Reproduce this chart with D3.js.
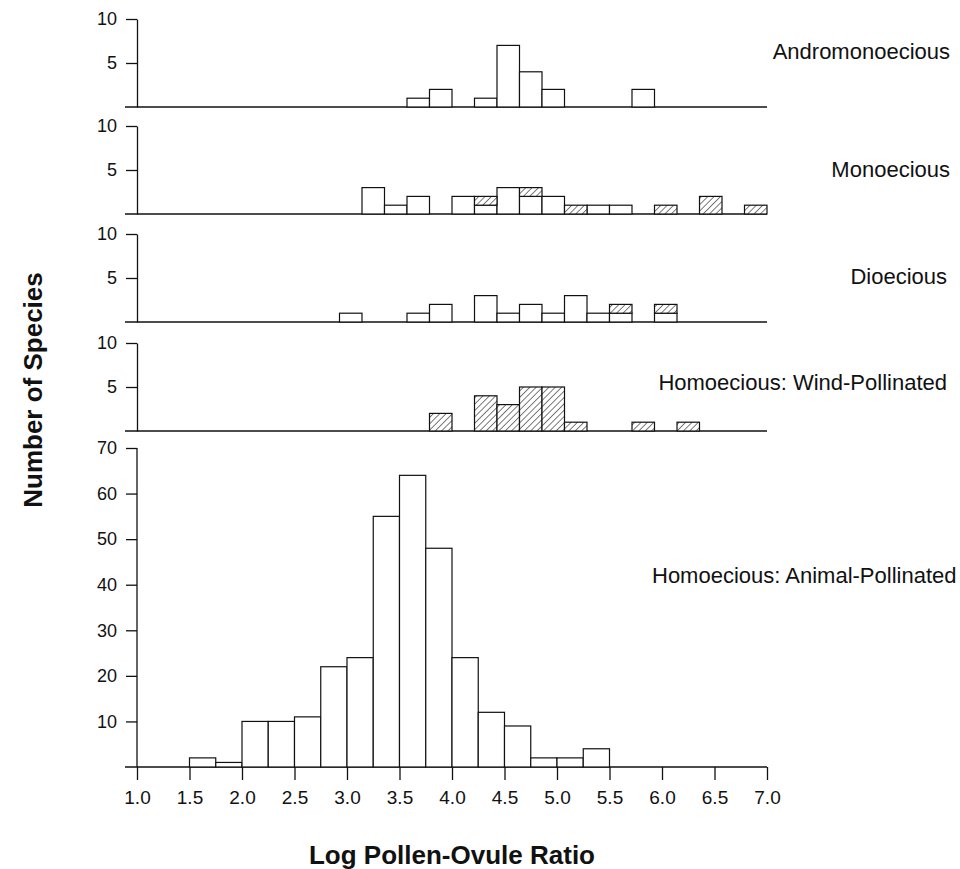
<!DOCTYPE html>
<html>
<head>
<meta charset="utf-8">
<script src="https://cdn.jsdelivr.net/npm/d3@7"></script>
<style>
  html, body { margin: 0; padding: 0; background: #fff; }
  svg { display: block; font-family: "Liberation Sans", Arial, Helvetica, sans-serif; }
</style>
</head>
<body>
<svg id="chart" width="960" height="869"></svg>
<script>
// ---------- DATA ----------
// Small panels: bins of 0.25 on the panel's own 0.5–7.5 span; [binStart, open (white) count, hatched count]
const andromonoeciousBins = [3.5, 3.75, 4.25, 4.5, 4.75, 5.0, 6.0];
const andromonoeciousOpen = [1, 2, 1, 7, 4, 2, 2];
const andromonoeciousHatch = [0, 0, 0, 0, 0, 0, 0];

const monoeciousBins  = [3.0, 3.25, 3.5, 4.0, 4.25, 4.5, 4.75, 5.0, 5.25, 5.5, 5.75, 6.25, 6.75, 7.25];
const monoeciousOpen  = [3,   1,    2,   2,   1,    3,   2,    2,   0,    1,   1,    0,    0,    0];
const monoeciousHatch = [0,   0,    0,   0,   1,    0,   1,    0,   1,    0,   0,    1,    2,    1];

const dioeciousBins  = [2.75, 3.5, 3.75, 4.25, 4.5, 4.75, 5.0, 5.25, 5.5, 5.75, 6.25];
const dioeciousOpen  = [1,    1,   2,    3,    1,   2,    1,   3,    1,   1,    1];
const dioeciousHatch = [0,    0,   0,    0,    0,   0,    0,   0,    0,   1,    1];

const windBins  = [3.75, 4.25, 4.5, 4.75, 5.0, 5.25, 6.0, 6.5];
const windOpen  = [0, 0, 0, 0, 0, 0, 0, 0];
const windHatch = [2, 4, 3, 5, 5, 1, 1, 1];

// Bottom panel (Animal-pollinated), bins of 0.25 on the 1.0–7.0 axis
const animalBins   = [1.5, 1.75, 2.0, 2.25, 2.5, 2.75, 3.0, 3.25, 3.5, 3.75, 4.0, 4.25, 4.5, 4.75, 5.0, 5.25];
const animalCounts = [2,   1,    10,  10,   11,  22,   24,  55,   64,  48,   24,  12,   9,   2,    2,   4];

const panelNames = ["Andromonoecious", "Monoecious", "Dioecious", "Homoecious: Wind-Pollinated", "Homoecious: Animal-Pollinated"];
const xTickValues = [1.0, 1.5, 2.0, 2.5, 3.0, 3.5, 4.0, 4.5, 5.0, 5.5, 6.0, 6.5, 7.0];
const smallYTicks = [5, 10];
const bigYTicks = [10, 20, 30, 40, 50, 60, 70];
const binWidth = 0.25;

// ---------- LAYOUT ----------
const svg = d3.select("#chart");
const left = 137, right = 767;
const xTop = d3.scaleLinear().domain([0.5, 7.5]).range([left, right]);
const xBottom = d3.scaleLinear().domain([1.0, 7.0]).range([left, right]);

const defs = svg.append("defs");
const pat = defs.append("pattern")
  .attr("id", "hatch").attr("patternUnits", "userSpaceOnUse")
  .attr("width", 4.5).attr("height", 4.5)
  .attr("patternTransform", "rotate(45)");
pat.append("rect").attr("width", 4.5).attr("height", 4.5).attr("fill", "#fff");
pat.append("line").attr("x1", 0).attr("y1", 0).attr("x2", 0).attr("y2", 4.5)
  .attr("stroke", "#222").attr("stroke-width", 1.2);

const smallPanels = [
  { name: panelNames[0], bins: andromonoeciousBins, open: andromonoeciousOpen, hatch: andromonoeciousHatch, top: 19, bottom: 107, labelY: 59, labelX: 950 },
  { name: panelNames[1], bins: monoeciousBins, open: monoeciousOpen, hatch: monoeciousHatch, top: 126, bottom: 214, labelY: 177, labelX: 950 },
  { name: panelNames[2], bins: dioeciousBins, open: dioeciousOpen, hatch: dioeciousHatch, top: 234, bottom: 322, labelY: 284, labelX: 947 },
  { name: panelNames[3], bins: windBins, open: windOpen, hatch: windHatch, top: 343, bottom: 431, labelY: 390, labelX: 947 }
];

function styleAxis(g, fs) {
  g.selectAll("path.domain").attr("stroke", "#111").attr("stroke-width", 1.3);
  g.selectAll(".tick line").attr("stroke", "#111").attr("stroke-width", 1.3);
  g.selectAll(".tick text").attr("fill", "#111").style("font-size", fs + "px")
    .style("font-family", "'Liberation Sans', Arial, sans-serif");
}

smallPanels.forEach(p => {
  const y = d3.scaleLinear().domain([0, 10]).range([p.bottom, p.top]);
  const g = svg.append("g");
  g.append("line").attr("x1", 125).attr("x2", right)
    .attr("y1", y(0)).attr("y2", y(0)).attr("stroke", "#111").attr("stroke-width", 1.3);
  const rows = p.bins.map((b, i) => ({ b, o: p.open[i], h: p.hatch[i] }));
  g.selectAll("rect.open").data(rows.filter(d => d.o > 0)).join("rect")
    .attr("class", "open")
    .attr("x", d => xTop(d.b)).attr("width", d => xTop(d.b + binWidth) - xTop(d.b))
    .attr("y", d => y(d.o)).attr("height", d => y(0) - y(d.o))
    .attr("fill", "#fff").attr("stroke", "#111").attr("stroke-width", 1.2);
  g.selectAll("rect.hatch").data(rows.filter(d => d.h > 0)).join("rect")
    .attr("class", "hatch")
    .attr("x", d => xTop(d.b)).attr("width", d => xTop(d.b + binWidth) - xTop(d.b))
    .attr("y", d => y(d.o + d.h)).attr("height", d => y(d.o) - y(d.o + d.h))
    .attr("fill", "url(#hatch)").attr("stroke", "#111").attr("stroke-width", 1.2);
  const ax = g.append("g").attr("transform", `translate(${left},0)`)
    .call(d3.axisLeft(y).tickValues(smallYTicks).tickSize(11).tickSizeOuter(0).tickPadding(9).tickFormat(d3.format("d")));
  styleAxis(ax, 18);
  g.append("text").attr("x", p.labelX).attr("y", p.labelY).attr("text-anchor", "end")
    .style("font-size", "22px").attr("fill", "#111").text(p.name);
});

// Bottom panel
const yBig = d3.scaleLinear().domain([0, 70]).range([767, 448]);
const gb = svg.append("g");
gb.append("line").attr("x1", 125).attr("x2", right).attr("y1", yBig(0)).attr("y2", yBig(0))
  .attr("stroke", "#111").attr("stroke-width", 1.3);
gb.selectAll("rect.bar").data(animalBins.map((b, i) => ({ b, v: animalCounts[i] }))).join("rect")
  .attr("class", "bar")
  .attr("x", d => xBottom(d.b)).attr("width", d => xBottom(d.b + binWidth) - xBottom(d.b))
  .attr("y", d => yBig(d.v)).attr("height", d => yBig(0) - yBig(d.v))
  .attr("fill", "#fff").attr("stroke", "#111").attr("stroke-width", 1.2);
const axB = gb.append("g").attr("transform", `translate(${left},0)`)
  .call(d3.axisLeft(yBig).tickValues(bigYTicks).tickSize(11).tickSizeOuter(0).tickPadding(9).tickFormat(d3.format("d")));
axB.select("path.domain").attr("d", `M0,${yBig(70)}V${yBig(0)}`);
styleAxis(axB, 18);
gb.append("text").attr("x", 652).attr("y", 583).attr("text-anchor", "start")
  .style("font-size", "22px").attr("fill", "#111").text(panelNames[4]);

// x axis
const axX = svg.append("g").attr("transform", `translate(0,${yBig(0)})`)
  .call(d3.axisBottom(xBottom).tickValues(xTickValues).tickSize(13).tickSizeOuter(0).tickPadding(11).tickFormat(d3.format(".1f")));
axX.select("path.domain").remove();
styleAxis(axX, 19);

// axis titles
svg.append("text").attr("x", 452).attr("y", 864).attr("text-anchor", "middle")
  .style("font-size", "26px").style("font-weight", "bold").attr("fill", "#111")
  .text("Log Pollen-Ovule Ratio");
svg.append("text").attr("transform", "translate(42,390) rotate(-90)").attr("text-anchor", "middle")
  .style("font-size", "26px").style("font-weight", "bold").attr("fill", "#111")
  .text("Number of Species");
</script>
</body>
</html>
